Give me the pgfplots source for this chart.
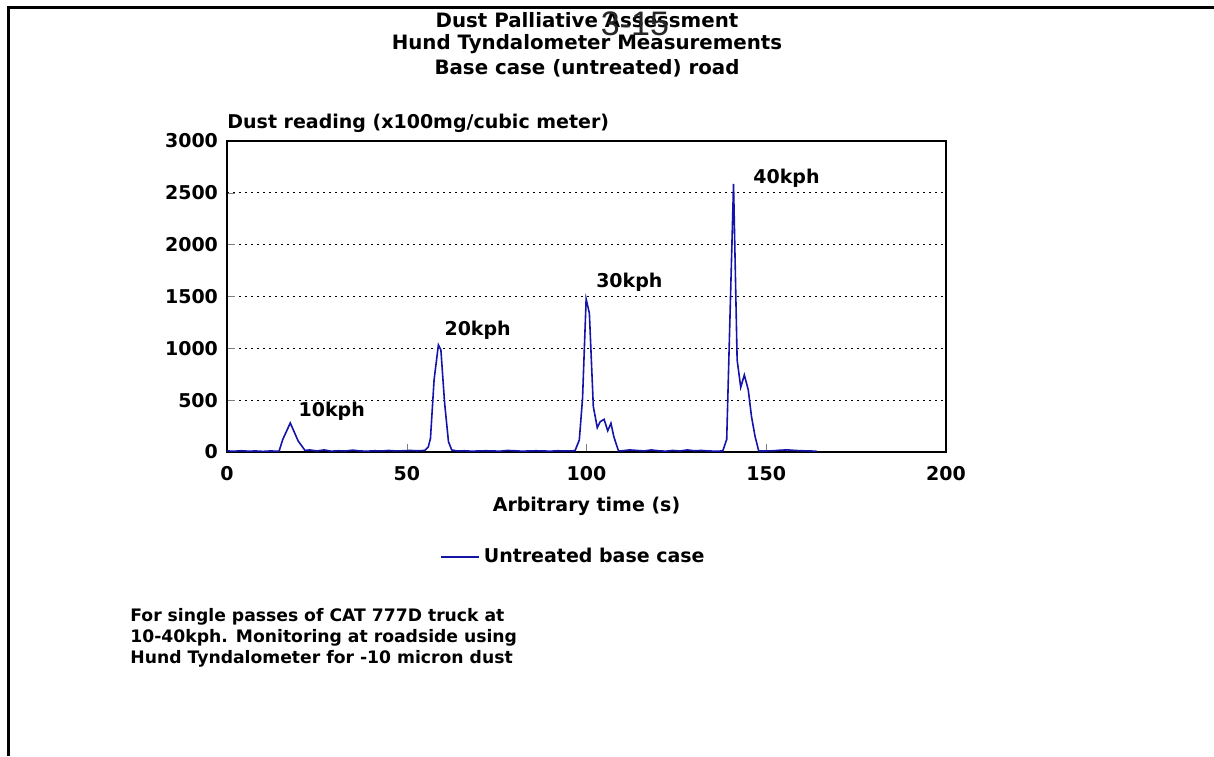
\documentclass[border=0pt]{standalone}
\usepackage{fontspec}
\setmainfont{DejaVu Sans}
\newfontfamily\thinfont{Liberation Sans}
\usepackage{pgfplots}
\pgfplotsset{compat=1.18}
\definecolor{lineblue}{RGB}{20,20,170}
\newcommand{\bigb}{\fontsize{9.5}{11}\selectfont\bfseries}
\newcommand{\titleb}{\fontsize{9.9}{11}\selectfont\bfseries}
\newcommand{\smallb}{\fontsize{8.6}{10.5}\selectfont\bfseries}

% Hund Tyndalometer, untreated base case (time s, reading x100mg/m3)
\pgfplotstableread{
t v
0 10
2 8
4 12
6 8
8 10
10 6
12 10
14 8
14.5 10
15.5 120
17.6 280
19.8 106
21.7 15
23 20
25 10
27 20
29 8
31 12
33 10
35 18
37 10
39 8
41 12
43 10
45 15
47 10
49 12
51 15
53 12
55 15
56 50
56.6 132
57.6 695
58.8 1032
59.5 984
60.5 485
61.6 100
62.5 20
64 10
66 12
68 8
70 10
72 12
74 10
76 8
78 15
80 12
82 8
84 10
86 12
88 10
90 8
92 12
94 10
96.8 12
98 116
98.9 518
99.9 1476
100.8 1338
101.9 437
103 235
103.8 292
104.9 315
105.9 205
106.8 277
107.6 148
108.9 10
110 12
112 20
114 15
116 10
118 20
120 12
122 8
124 15
126 10
128 20
130 12
132 15
134 10
136 8
137.9 10
139 122
140.9 2586
141.9 888
142.9 624
143.9 743
145 598
145.9 341
146.9 148
147.9 10
150 10
152 12
154 18
156 20
158 15
160 12
162 10
164 8
}\basecase

\begin{document}
\begin{tikzpicture}
\path[use as bounding box] (0,0) rectangle (607pt,378pt);
\draw[line width=1.5pt] (4pt,0) -- (4pt,374pt) -- (607pt,374pt);

% titles
\node[font=\titleb, align=center] at (293.5pt,368pt) {Dust Palliative Assessment};
\node[font=\titleb, align=center] at (293.5pt,356pt) {Hund Tyndalometer Measurements};
\node[font=\titleb, align=center] at (293.5pt,344pt) {Base case (untreated) road};
\node[font=\thinfont\fontsize{17}{17}\selectfont, text=black!85] at (317.5pt,366pt) {3-15};

\begin{axis}[
  at={(113.5pt,152pt)}, anchor=south west,
  scale only axis, width=359.5pt, height=155.5pt,
  xmin=0, xmax=200, ymin=0, ymax=3000,
  xtick={0,50,100,150,200}, ytick={0,500,...,3000},
  xtick pos=bottom, ytick pos=left, tick align=inside,
  major tick length=4pt,
  ymajorgrids, grid style={black, line width=0.6pt, dash pattern=on 1.2pt off 1.8pt},
  axis line style={line width=0.8pt},
  /pgf/number format/assume math mode=true,
  /pgf/number format/1000 sep={},
  tick label style={font=\bigb},
  xticklabel style={yshift=-3.5pt},
  yticklabel style={xshift=-1pt},
  xlabel={Arbitrary time (s)},
  xlabel style={font=\bigb, yshift=-1.5pt},
  legend style={at={(0.296,-0.338)}, anchor=west, draw=none, fill=none,
    font=\bigb, inner sep=0pt},
  legend image code/.code={\draw[#1] (0pt,0pt) -- (19pt,0pt);},
  clip=false,
]
\addplot[lineblue, line width=0.8pt] table[x=t, y=v] {\basecase};
\addlegendentry{Untreated base case}
\node[anchor=south west, font=\bigb, inner sep=0pt] at (rel axis cs:0,1) [yshift=4pt] {Dust reading (x100mg/cubic meter)};
\node[anchor=west, font=\bigb, inner sep=0pt] at (axis cs:19.8,396) {10kph};
\node[anchor=west, font=\bigb, inner sep=0pt] at (axis cs:60.4,1177) {20kph};
\node[anchor=west, font=\bigb, inner sep=0pt] at (axis cs:102.6,1640) {30kph};
\node[anchor=west, font=\bigb, inner sep=0pt] at (axis cs:146.3,2644) {40kph};
\end{axis}

% note
\node[anchor=north west, font=\smallb, align=left, inner sep=0pt] at (65pt,74pt)
  {For single passes of CAT 777D truck at\\10-40kph.  Monitoring at roadside using\\Hund Tyndalometer for -10 micron dust};
\end{tikzpicture}
\end{document}
